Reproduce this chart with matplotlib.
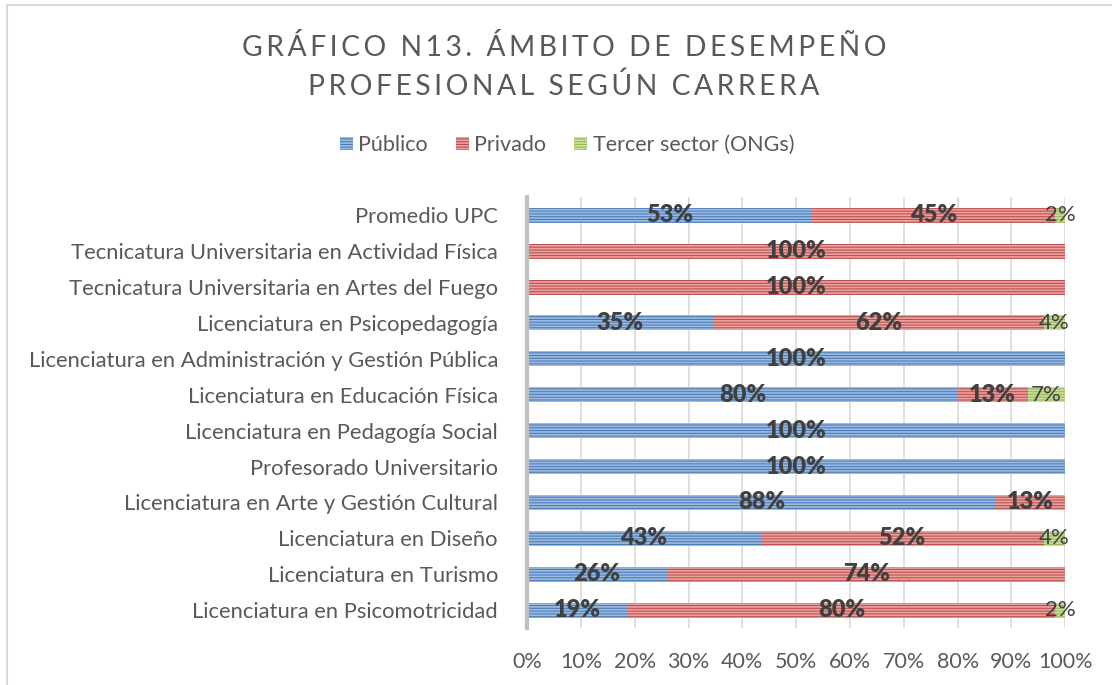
import matplotlib.pyplot as plt
import matplotlib.patches as mpatches
import numpy as np

plt.rcParams['font.family'] = ['Lato', 'DejaVu Sans']
plt.rcParams['hatch.linewidth'] = 1.2

# data (top row first)
carreras = [
    'Promedio UPC',
    'Tecnicatura Universitaria en Actividad Física',
    'Tecnicatura Universitaria en Artes del Fuego',
    'Licenciatura en Psicopedagogía',
    'Licenciatura en Administración y Gestión Pública',
    'Licenciatura en Educación Física',
    'Licenciatura en Pedagogía Social',
    'Profesorado Universitario',
    'Licenciatura en Arte y Gestión Cultural',
    'Licenciatura en Diseño',
    'Licenciatura en Turismo',
    'Licenciatura en Psicomotricidad',
]
publico = [53, 0, 0, 35, 100, 80, 100, 100, 88, 43, 26, 19]
privado = [45, 100, 100, 62, 0, 13, 0, 0, 13, 52, 74, 80]
tercer = [2, 0, 0, 4, 0, 7, 0, 0, 0, 4, 0, 2]

series = ['Público', 'Privado', 'Tercer sector (ONGs)']
colores = ['#4a7ebb', '#c0504d', '#9bbb59']
rayas = ['#9dbbe0', '#e8a3a1', '#c9dd9f']

titulo = ['GRÁFICO N13. ÁMBITO DE DESEMPEÑO', 'PROFESIONAL SEGÚN CARRERA']

vals = np.array([publico, privado, tercer], dtype=float)
vals = vals / vals.sum(axis=0) * 100  # stacked 100%

fig = plt.figure(figsize=(11.12, 6.85), dpi=100)
ax = fig.add_axes([0.474, 0.083, 0.484, 0.629])

y = np.arange(len(carreras))
left = np.zeros(len(carreras))
for i in range(3):
    ax.barh(y, vals[i], left=left, height=0.42, color=colores[i],
            edgecolor=rayas[i], linewidth=0, hatch='------', zorder=2)
    for j in range(len(carreras)):
        orig = [publico, privado, tercer][i][j]
        if orig > 0:
            ax.text(left[j] + vals[i][j] / 2, y[j], f'{orig}%', ha='center', va='center',
                    fontsize=17 if i < 2 else 16, color='#404040',
                    fontweight='heavy' if i < 2 else 'normal', zorder=3)
    left += vals[i]

ax.set_ylim(len(carreras) - 0.5, -0.5)
ax.set_xlim(0, 100)
ax.set_yticks(y)
ax.set_yticklabels(carreras, fontsize=15.8, color='#595959')
ax.set_xticks(np.arange(0, 101, 10))
ax.set_xticklabels([f'{v}%' for v in range(0, 101, 10)], fontsize=15.5, color='#595959')
ax.tick_params(length=0)
ax.tick_params(axis='x', pad=17)
ax.tick_params(axis='y', pad=21)
ax.grid(axis='x', color='#d9d9d9', linewidth=1.2, zorder=0)
for s in ['top', 'right', 'bottom']:
    ax.spines[s].set_visible(False)
ax.spines['left'].set_color('#bfbfbf')
ax.spines['left'].set_linewidth(3)

# title with letter spacing
for k, linea in enumerate(titulo):
    fig.text(0.507, 1 - (48 + 38 * k) / 685, '\u2009'.join(linea), ha='center', va='center',
             fontsize=20.3, color='#595959')

handles = [mpatches.Patch(facecolor=colores[i], edgecolor=rayas[i], linewidth=0,
                          hatch='------', label=series[i]) for i in range(3)]
fig.legend(handles=handles, loc='center', bbox_to_anchor=(0.51, 1 - 145 / 685), ncol=3,
           frameon=False, fontsize=15.5, labelcolor='#595959', handlelength=0.6,
           handleheight=0.6, handletextpad=0.25, columnspacing=1.3)

# chart border
fig.patches.append(mpatches.Rectangle((7 / 1112, -0.1), 1.2, 1 - 5 / 685 + 0.1,
                                      transform=fig.transFigure, fill=False,
                                      edgecolor='#d9d9d9', linewidth=1.5))

fig.savefig('out.png', dpi=100)
